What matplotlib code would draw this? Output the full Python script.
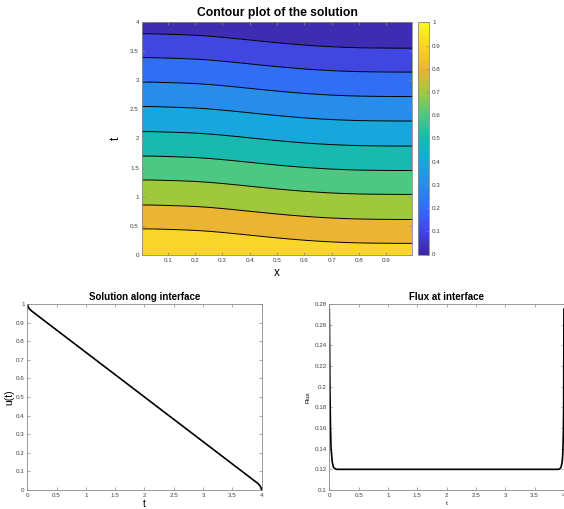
import numpy as np
import matplotlib
matplotlib.use("Agg")
import matplotlib.pyplot as plt
from matplotlib.colors import LinearSegmentedColormap, Normalize
from matplotlib.cm import ScalarMappable
from matplotlib.ticker import FormatStrFormatter

plt.rcParams['font.family'] = ['Liberation Sans', 'DejaVu Sans']

# contour data: t where each level crosses at x=0, and how far the lines drop with x
levels = [1.0, 0.9, 0.8, 0.7, 0.6, 0.5, 0.4, 0.3, 0.2, 0.1, 0.0]
level_t = [0.03, 0.45, 0.86, 1.29, 1.70, 2.12, 2.55, 2.97, 3.39, 3.80, 4.22]
x_s = [0, 0.05, 0.1, 0.15, 0.2, 0.25, 0.3, 0.35, 0.4, 0.45, 0.5,
       0.55, 0.6, 0.65, 0.7, 0.75, 0.8, 0.85, 0.9, 0.95, 1.0]
shift = [0, 0.003, 0.01, 0.017, 0.027, 0.042, 0.062, 0.085, 0.109, 0.133, 0.156,
         0.177, 0.196, 0.212, 0.225, 0.235, 0.242, 0.246, 0.248, 0.25, 0.25]

# band colours (lowest band first) and colorbar anchors
band_cols = ['#3e2db2', '#4246e0', '#326ef5', '#288ceb', '#18a7dc',
             '#19b9b0', '#4cc883', '#a0c83c', '#ebb432', '#f9d52b']
cbar_cols = ['#3e26a8', '#4246e0', '#326ef5', '#288ceb', '#18a7dc',
             '#19b9b0', '#4cc883', '#a0c83c', '#ebb432', '#fad22e', '#f9fb14']

# interface solution
t_u = [0, 0.01, 0.02, 0.04, 0.08, 2.0, 3.92, 3.96, 3.98, 3.99, 4.0]
u_t = [1.0, 0.99, 0.982, 0.972, 0.961, 0.5, 0.039, 0.027, 0.018, 0.01, 0.0]

# flux at interface
t_f = [0, 0.005, 0.01, 0.02, 0.03, 0.05, 0.07, 0.1, 0.13, 2.0,
       3.9, 3.93, 3.95, 3.97, 3.98, 3.99, 3.995, 4.0]
flux = [0.275, 0.24, 0.2, 0.16, 0.14, 0.127, 0.122, 0.1205, 0.12, 0.12,
        0.12, 0.1205, 0.122, 0.127, 0.135, 0.155, 0.18, 0.275]

axcol = '#8a8a8a'
tkcol = '#404040'


def matlab_style(ax, fs=4.5):
    for s in ax.spines.values():
        s.set_color(axcol)
        s.set_linewidth(0.6)
    ax.tick_params(direction='in', length=2, width=0.5, color=axcol,
                   labelsize=fs, labelcolor=tkcol, top=True, right=True, pad=2)
    ax.xaxis.set_major_formatter(FormatStrFormatter('%g'))
    ax.yaxis.set_major_formatter(FormatStrFormatter('%g'))


fig = plt.figure(figsize=(5.64, 5.09), dpi=100)

# top: contour plot
ax1 = fig.add_axes([0.2512, 0.499, 0.4798, 0.4578])
tg = np.linspace(0, 4, 201)
X, T = np.meshgrid(x_s, tg)
S = np.meshgrid(shift, tg)[0]
# level_t increases while levels decrease, np.interp is fine with that
Z = np.interp((T + S).ravel(), level_t, levels).reshape(T.shape)
lv = np.linspace(0, 1, 11)
ax1.contourf(X, T, Z, levels=lv, colors=band_cols)
ax1.contour(X, T, Z, levels=lv[1:-1], colors='k', linewidths=0.7)
ax1.set_xlim(0.005, 0.995)
ax1.set_ylim(0, 4)
ax1.set_xticks(np.arange(0.1, 0.95, 0.1))
ax1.set_yticks(np.arange(0, 4.01, 0.5))
matlab_style(ax1)
ax1.set_title('Contour plot of the solution', fontsize=8.7, fontweight='bold', pad=4)
ax1.set_xlabel('x', fontsize=8.5, labelpad=3)
ax1.set_ylabel('t', fontsize=8.5, labelpad=6)

cax = fig.add_axes([0.7405, 0.5, 0.0205, 0.4558])
parula = LinearSegmentedColormap.from_list('parula', cbar_cols)
cb = fig.colorbar(ScalarMappable(norm=Normalize(0, 1), cmap=parula), cax=cax)
cb.set_ticks(np.arange(0, 1.01, 0.1))
cb.ax.yaxis.set_major_formatter(FormatStrFormatter('%g'))
cb.outline.set_edgecolor(axcol)
cb.outline.set_linewidth(0.6)
cb.ax.tick_params(direction='in', length=2, width=0.5, color=axcol,
                  labelsize=4.5, labelcolor=tkcol, pad=2)

# bottom left: solution along interface
ax2 = fig.add_axes([0.0484, 0.0373, 0.4156, 0.3654])
ax2.plot(t_u, u_t, color='k', lw=1.2)
ax2.set_xlim(0, 4)
ax2.set_ylim(0, 1)
ax2.set_xticks(np.arange(0, 4.01, 0.5))
ax2.set_yticks(np.arange(0, 1.01, 0.1))
matlab_style(ax2)
ax2.set_title('Solution along interface', fontsize=7, fontweight='bold', pad=3)
ax2.set_xlabel('t', fontsize=7.5, labelpad=1)
ax2.set_ylabel('u(t)', fontsize=7.5, labelpad=1)

# bottom right: flux at interface (cut at the right edge, like the original)
ax3 = fig.add_axes([0.5839, 0.0373, 0.4160, 0.3654])
ax3.plot(t_f, flux, color='k', lw=1.2)
ax3.set_xlim(0, 4)
ax3.set_ylim(0.1, 0.28)
ax3.set_xticks(np.arange(0, 4.01, 0.5))
ax3.set_yticks(np.arange(0.1, 0.281, 0.02))
matlab_style(ax3)
ax3.set_title('Flux at interface', fontsize=7, fontweight='bold', pad=3)
ax3.set_xlabel('t', fontsize=4.5, labelpad=2)
ax3.set_ylabel('Flux', fontsize=4.5, labelpad=3)

fig.savefig('out.png', dpi=100)
